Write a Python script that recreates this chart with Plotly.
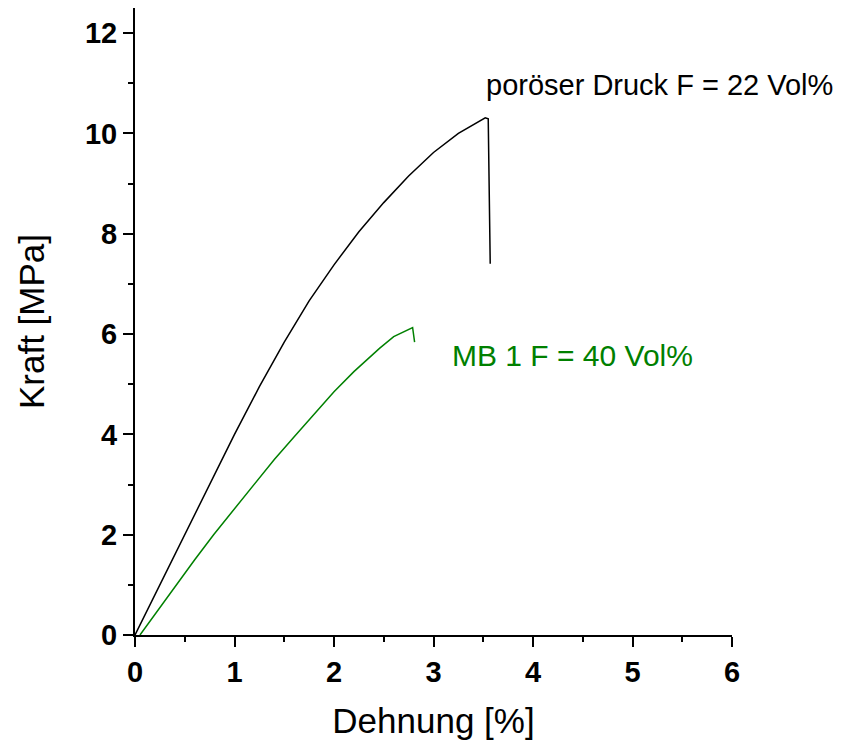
import plotly.graph_objects as go

dehnung_poroes = [0, 0.25, 0.5, 0.75, 1.0, 1.25, 1.5, 1.75, 2.0, 2.25, 2.5, 2.75, 3.0, 3.25, 3.4, 3.52, 3.55, 3.57]
kraft_poroes = [0, 1.0, 2.02, 3.02, 4.0, 4.95, 5.84, 6.66, 7.38, 8.04, 8.62, 9.15, 9.62, 10.0, 10.18, 10.31, 10.29, 7.40]

dehnung_mb1 = [0.05, 0.25, 0.42, 0.6, 0.79, 1.0, 1.2, 1.4, 1.6, 1.8, 2.0, 2.2, 2.46, 2.6, 2.79, 2.81]
kraft_mb1 = [0, 0.55, 1.0, 1.5, 2.0, 2.52, 3.02, 3.5, 3.95, 4.4, 4.85, 5.25, 5.72, 5.95, 6.13, 5.84]

x_ticks = [0, 1, 2, 3, 4, 5, 6]
y_ticks = [0, 2, 4, 6, 8, 10, 12]

fig = go.Figure()
fig.add_trace(go.Scatter(x=dehnung_poroes, y=kraft_poroes, mode="lines",
                         line=dict(color="black", width=1.5), showlegend=False))
fig.add_trace(go.Scatter(x=dehnung_mb1, y=kraft_mb1, mode="lines",
                         line=dict(color="#008000", width=1.5), showlegend=False))

fig.add_annotation(x=3.51, y=10.96, text="poröser Druck F = 22 Vol%", showarrow=False,
                   xanchor="left", yanchor="middle",
                   font=dict(family="Liberation Sans, Arial", size=29, color="black"))
fig.add_annotation(x=3.17, y=5.57, text="MB 1 F = 40 Vol%", showarrow=False,
                   xanchor="left", yanchor="middle",
                   font=dict(family="Liberation Sans, Arial", size=30, color="#008000"))

achse = dict(showline=True, linecolor="black", linewidth=2, showgrid=False, zeroline=False,
             ticks="outside", ticklen=10, tickwidth=2, tickcolor="black",
             tickfont=dict(family="Liberation Sans, Arial", size=29, color="black", weight="bold"))

fig.update_xaxes(range=[0, 6], tickvals=x_ticks,
                 minor=dict(dtick=0.5, ticks="outside", ticklen=5, tickwidth=2, tickcolor="black"),
                 title=dict(text="Dehnung [%]", standoff=22,
                            font=dict(family="Liberation Sans, Arial", size=35, color="black")),
                 **achse)
fig.update_yaxes(range=[0, 12.5], tickvals=y_ticks,
                 minor=dict(dtick=1, ticks="outside", ticklen=5, tickwidth=2, tickcolor="black"),
                 title=dict(text="Kraft [MPa]", standoff=30,
                            font=dict(family="Liberation Sans, Arial", size=35, color="black")),
                 **achse)

fig.update_layout(width=850, height=746, plot_bgcolor="white", paper_bgcolor="white",
                  margin=dict(l=127, r=126, t=0, b=119))

fig.write_html("out.html")
